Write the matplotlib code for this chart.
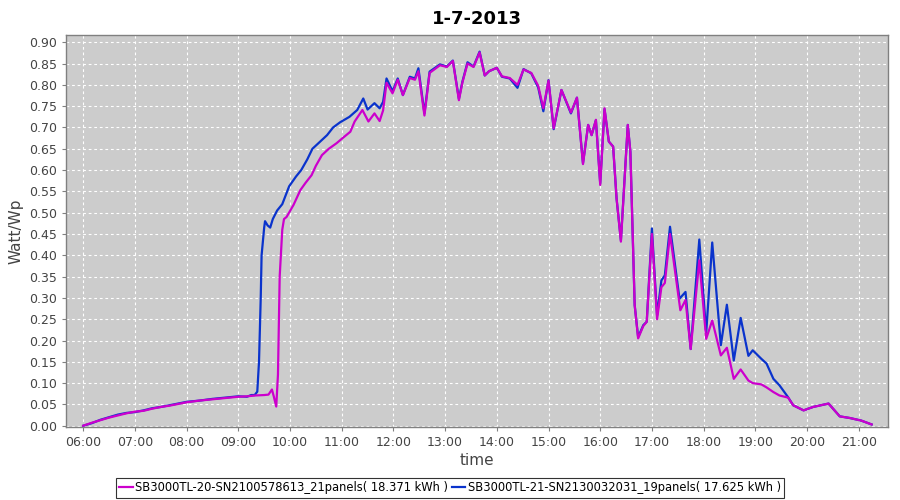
import matplotlib
matplotlib.use("Agg")
import matplotlib.pyplot as plt
import matplotlib.dates as mdates
import pandas as pd

title = "1-7-2013"
label_a = "SB3000TL-20-SN2100578613_21panels( 18.371 kWh )"
label_b = "SB3000TL-21-SN2130032031_19panels( 17.625 kWh )"

times_a = ["06:00","06:10","06:20","06:30","06:40","06:50","07:00","07:10","07:20","07:30",
           "07:40","07:50","08:00","08:15","08:30","08:45","09:00","09:10","09:20","09:30",
           "09:35","09:39","09:41","09:44","09:46","09:48","09:51","09:53","09:56","10:04",
           "10:12","10:18","10:25","10:30","10:37","10:45","10:54","11:01","11:10","11:15",
           "11:24","11:31","11:38","11:44","11:48","11:52","11:59","12:05","12:11","12:19",
           "12:25","12:29","12:36","12:42","12:54","13:02","13:09","13:16","13:20","13:26",
           "13:33","13:40","13:46","13:51","14:00","14:06","14:15","14:24","14:31","14:40",
           "14:48","14:54","15:00","15:06","15:15","15:26","15:33","15:40","15:46","15:50",
           "15:55","16:00","16:05","16:10","16:15","16:19","16:24","16:32","16:35","16:40",
           "16:44","16:50","16:54","17:00","17:06","17:11","17:15","17:21","17:33","17:39",
           "17:45","17:55","18:03","18:10","18:20","18:27","18:35","18:43","18:52","18:57",
           "19:07","19:13","19:21","19:28","19:38","19:44","19:56","20:07","20:25","20:38",
           "20:50","21:03","21:15"]
values_a = [0.000,0.007,0.013,0.019,0.024,0.029,0.033,0.035,0.040,0.044,
            0.047,0.051,0.055,0.059,0.062,0.065,0.068,0.069,0.071,0.072,
            0.073,0.085,0.070,0.045,0.120,0.350,0.460,0.485,0.490,0.518,
            0.553,0.570,0.588,0.610,0.635,0.650,0.663,0.675,0.690,0.714,
            0.741,0.714,0.733,0.715,0.740,0.805,0.780,0.812,0.776,0.816,
            0.812,0.832,0.728,0.828,0.846,0.842,0.856,0.764,0.805,0.850,
            0.842,0.876,0.822,0.832,0.840,0.820,0.816,0.800,0.836,0.828,
            0.798,0.745,0.810,0.698,0.788,0.735,0.770,0.614,0.706,0.682,
            0.718,0.565,0.745,0.667,0.655,0.533,0.432,0.706,0.643,0.283,
            0.205,0.234,0.244,0.450,0.250,0.325,0.335,0.450,0.271,0.295,
            0.180,0.388,0.204,0.247,0.165,0.183,0.110,0.132,0.106,0.100,
            0.097,0.090,0.079,0.071,0.066,0.048,0.036,0.044,0.052,0.022,
            0.018,0.012,0.003]

times_b = ["06:00","06:10","06:20","06:30","06:40","06:50","07:00","07:10","07:20","07:30",
           "07:40","07:50","08:00","08:15","08:30","08:45","09:00","09:10","09:15","09:19",
           "09:22","09:24","09:26","09:27","09:30","09:31","09:34","09:37","09:40","09:45",
           "09:51","09:59","10:07","10:13","10:20","10:26","10:34","10:43","10:50","10:58",
           "11:09","11:18","11:25","11:30","11:38","11:44","11:48","11:52","11:59","12:05",
           "12:11","12:19","12:25","12:29","12:36","12:42","12:54","13:02","13:09","13:16",
           "13:20","13:26","13:33","13:40","13:46","13:51","14:00","14:06","14:15","14:24",
           "14:31","14:40","14:48","14:54","15:00","15:06","15:15","15:26","15:33","15:40",
           "15:46","15:50","15:55","16:00","16:05","16:10","16:15","16:19","16:24","16:32",
           "16:35","16:40","16:44","16:50","16:54","17:00","17:06","17:11","17:15","17:21",
           "17:32","17:39","17:45","17:55","18:03","18:10","18:20","18:27","18:35","18:43",
           "18:52","18:57","19:07","19:13","19:21","19:28","19:38","19:44","19:56","20:07",
           "20:25","20:38","20:50","21:03","21:15"]
values_b = [0.000,0.006,0.014,0.020,0.026,0.030,0.032,0.036,0.041,0.044,
            0.048,0.052,0.056,0.059,0.063,0.066,0.069,0.068,0.072,0.072,
            0.080,0.150,0.300,0.400,0.465,0.480,0.470,0.465,0.485,0.505,
            0.520,0.562,0.585,0.600,0.625,0.650,0.665,0.682,0.700,0.712,
            0.725,0.741,0.768,0.742,0.757,0.745,0.760,0.815,0.785,0.815,
            0.776,0.819,0.815,0.839,0.733,0.831,0.848,0.843,0.857,0.767,
            0.807,0.853,0.843,0.878,0.822,0.832,0.840,0.819,0.815,0.793,
            0.837,0.827,0.794,0.738,0.811,0.696,0.788,0.733,0.770,0.616,
            0.706,0.682,0.717,0.569,0.743,0.667,0.655,0.533,0.435,0.706,
            0.643,0.283,0.208,0.236,0.244,0.463,0.259,0.341,0.353,0.467,
            0.298,0.314,0.180,0.437,0.218,0.430,0.189,0.284,0.153,0.253,
            0.164,0.177,0.157,0.146,0.110,0.095,0.067,0.048,0.036,0.044,
            0.052,0.022,0.018,0.012,0.003]

y_ticks = [0.00,0.05,0.10,0.15,0.20,0.25,0.30,0.35,0.40,0.45,0.50,0.55,0.60,0.65,0.70,0.75,0.80,0.85,0.90]
x_tick_labels = ["06:00","07:00","08:00","09:00","10:00","11:00","12:00","13:00","14:00",
                 "15:00","16:00","17:00","18:00","19:00","20:00","21:00"]

def to_dt(lst):
    return pd.to_datetime(["2013-07-01 " + t for t in lst])

xa = to_dt(times_a)
xb = to_dt(times_b)
xt = to_dt(x_tick_labels)

fig = plt.figure(figsize=(9, 5), dpi=100)
fig.patch.set_facecolor("white")
ax = fig.add_axes([66/900, 1-427/500, (888-66)/900, (427-35)/500])
ax.set_facecolor("#cccccc")

lb, = ax.plot(xb, values_b, color="#0a33cc", lw=1.6, label=label_b, zorder=3)
la, = ax.plot(xa, values_a, color="#cc00cc", lw=1.6, label=label_a, zorder=4)

ax.set_xlim(pd.Timestamp("2013-07-01 05:40"), pd.Timestamp("2013-07-01 21:34"))
ax.set_ylim(-0.003, 0.917)
ax.set_yticks(y_ticks)
ax.set_yticklabels([f"{v:.2f}" for v in y_ticks])
ax.set_xticks(xt)
ax.set_xticklabels(x_tick_labels)

ax.grid(True, color="white", linestyle=(0, (2.5, 2.5)), linewidth=0.8)
ax.set_axisbelow(True)
for s in ax.spines.values():
    s.set_color("#808080")
    s.set_linewidth(1.0)
ax.tick_params(axis="both", labelsize=9, color="#808080", length=3, labelcolor="#444444")

ax.set_title(title, fontsize=13, fontweight="bold", pad=8)
ax.set_xlabel("time", fontsize=11, color="#444444", labelpad=3)
ax.set_ylabel("Watt/Wp", fontsize=11, color="#444444", labelpad=4)

leg = fig.legend(handles=[la, lb], loc="lower center", bbox_to_anchor=(0.5, 0.0),
                 ncol=2, fontsize=8.3, frameon=True, fancybox=False, edgecolor="black",
                 handlelength=1.2, handletextpad=0.2, columnspacing=0.3,
                 borderpad=0.3, borderaxespad=0.2)
leg.get_frame().set_linewidth(0.8)

fig.savefig("out.png", dpi=100)
